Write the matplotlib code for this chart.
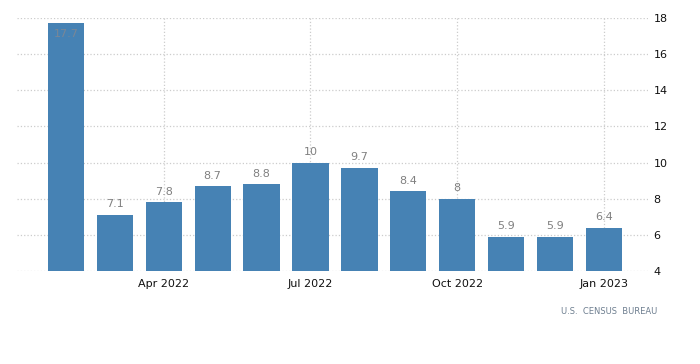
import numpy as np
import matplotlib.pyplot as plt

months = ['Feb 2022', 'Mar 2022', 'Apr 2022', 'May 2022', 'Jun 2022', 'Jul 2022',
          'Aug 2022', 'Sep 2022', 'Oct 2022', 'Nov 2022', 'Dec 2022', 'Jan 2023']
values = [17.7, 7.1, 7.8, 8.7, 8.8, 10, 9.7, 8.4, 8, 5.9, 5.9, 6.4]
tick_labels = ['Apr 2022', 'Jul 2022', 'Oct 2022', 'Jan 2023']
yticks = [4, 6, 8, 10, 12, 14, 16, 18]

x = np.arange(len(months))
fig = plt.figure(figsize=(7, 3.64), dpi=100)
ax = fig.add_axes([0.0243, 0.2555, 0.9014, 0.695])

ax.bar(x, np.array(values) - 4, bottom=4, width=0.74, color='#4682b4', zorder=3)

for xi, v in zip(x, values):
    lab = f'{v:g}'
    if v > 17:
        # too tall: label goes inside the bar
        ax.annotate(lab, (xi, v), xytext=(0, -4), textcoords='offset points',
                    ha='center', va='top', fontsize=8, color='#7a8796', zorder=4)
    else:
        ax.annotate(lab, (xi, v), xytext=(0, 4), textcoords='offset points',
                    ha='center', va='bottom', fontsize=8, color='#808080', zorder=4)

ax.set_xlim(-1.0, 11.9)
ax.set_ylim(4, 18)
ax.set_yticks(yticks)
ax.set_xticks([months.index(t) for t in tick_labels])
ax.set_xticklabels(tick_labels)
ax.yaxis.tick_right()
ax.tick_params(axis='both', length=0, labelsize=8, colors='#111111')
ax.tick_params(axis='y', pad=4)
ax.tick_params(axis='x', pad=6)
ax.grid(True, linestyle=':', color='#cccccc', linewidth=0.9, zorder=0)
for s in ax.spines.values():
    s.set_visible(False)

fig.text(0.939, 0.143, 'U.S.  CENSUS  BUREAU', ha='right', va='center',
         fontsize=6, color='#6e7f90')

fig.savefig('out.png', dpi=100)
